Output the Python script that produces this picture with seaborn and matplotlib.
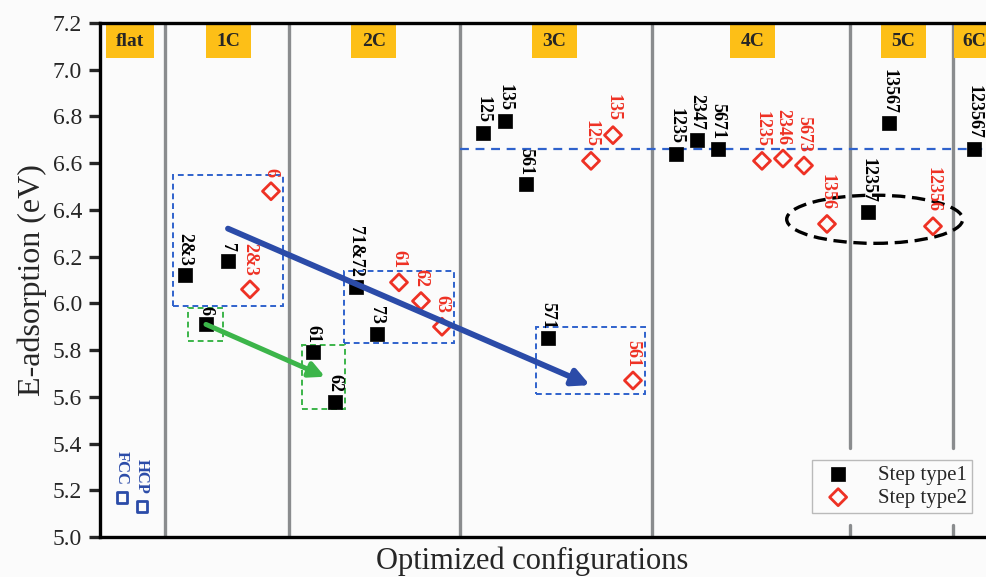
import numpy as np
import pandas as pd
import matplotlib.pyplot as plt
import matplotlib.patches as mpatches
import seaborn as sns

# Libs set-up
sns.set_style('ticks')
plt.rcParams['font.family'] = ['Liberation Serif', 'DejaVu Serif']

# ---- data (x = slot position along the configuration axis, y = E-adsorption in eV)
type1_labels = ['2&3', '7', '6', '61', '62', '71&72', '73', '125', '135', '561', '571',
                '1235', '2347', '5671', '12357', '13567', '123567']
type1_x = [0.85, 1.28, 1.06, 2.13, 2.35, 2.56, 2.77, 3.83, 4.05, 4.26, 4.48,
           5.76, 5.97, 6.18, 7.68, 7.89, 8.74]
type1_e = [6.12, 6.18, 5.91, 5.79, 5.58, 6.07, 5.87, 6.73, 6.78, 6.51, 5.85,
           6.64, 6.70, 6.66, 6.39, 6.77, 6.66]

type2_labels = ['6', '2&3', '61', '62', '63', '125', '135', '561',
                '1235', '2346', '5673', '1356', '12356']
type2_x = [1.71, 1.50, 2.99, 3.21, 3.42, 4.91, 5.13, 5.33,
           6.62, 6.83, 7.04, 7.27, 8.33]
type2_e = [6.48, 6.06, 6.09, 6.01, 5.90, 6.61, 6.72, 5.67,
           6.61, 6.62, 6.59, 6.34, 6.33]

flat_labels = ['FCC', 'HCP']
flat_x = [0.22, 0.42]
flat_e = [5.17, 5.13]

group_names = ['flat', '1C', '2C', '3C', '4C', '5C', '6C']
group_centers = [0.30, 1.285, 2.74, 4.545, 6.525, 8.035, 8.77]
separators = [0.65, 1.89, 3.60, 5.52, 7.50, 8.53]
step_level = 6.66

df1 = pd.DataFrame({'x': type1_x, 'E': type1_e, 'label': type1_labels})
df2 = pd.DataFrame({'x': type2_x, 'E': type2_e, 'label': type2_labels})
dff = pd.DataFrame({'x': flat_x, 'E': flat_e, 'label': flat_labels})

RED = '#ee3124'
BLUE = '#2f62cc'
NAVY = '#2b4ba8'
GREEN = '#3cb54a'
GOLD = '#fdbf17'
GRAY = '#8a8c8e'

fig = plt.figure(figsize=(9.86, 5.77), dpi=100, facecolor='#fbfbfb')
ax = fig.add_axes([0.1014, 0.0693, 0.8986, 0.8908])
ax.set_facecolor('#fbfbfb')
ax.set_xlim(0, 8.86)
ax.set_ylim(5.0, 7.2)

# group separators (5C / 6C ones broken by the legend)
for s in separators:
    if s > 7.0:
        ax.plot([s, s], [5.0, 5.05], color=GRAY, lw=2.4, zorder=1)
        ax.plot([s, s], [5.38, 7.2], color=GRAY, lw=2.4, zorder=1)
    else:
        ax.axvline(s, color=GRAY, lw=2.4, zorder=1)

# group name boxes
for name, c in zip(group_names, group_centers):
    w = 0.48 if name == 'flat' else 0.45
    ax.add_patch(mpatches.Rectangle((c - w / 2, 7.05), w, 0.14, facecolor=GOLD,
                                    edgecolor='none', zorder=2))
    # the last box runs off the right edge, keep its text inside
    ax.text(min(c, 8.74), 7.12, name, ha='center', va='center', fontsize=14,
            fontweight='bold', zorder=3, clip_on=True)

ax.plot([separators[2], 8.86], [step_level, step_level], color=BLUE, lw=1.6,
        dashes=(4, 3), zorder=2)

# dashed frames
blue_boxes = [(0.727, 5.99, 1.833, 6.55), (2.44, 5.83, 3.54, 6.14), (4.357, 5.61, 5.45, 5.90)]
green_boxes = [(0.883, 5.84, 1.233, 5.98), (2.023, 5.55, 2.45, 5.82)]
for (x0, y0, x1, y1) in blue_boxes:
    ax.add_patch(mpatches.Rectangle((x0, y0), x1 - x0, y1 - y0, fill=False,
                                    edgecolor=BLUE, lw=1.4, ls=(0, (3, 2)), zorder=2))
for (x0, y0, x1, y1) in green_boxes:
    ax.add_patch(mpatches.Rectangle((x0, y0), x1 - x0, y1 - y0, fill=False,
                                    edgecolor=GREEN, lw=1.4, ls=(0, (3, 2)), zorder=2))
ax.add_patch(mpatches.Ellipse((7.747, 6.36), 1.76, 0.206, fill=False,
                              edgecolor='black', lw=2.4, ls=(0, (4, 2)), zorder=2))

# markers
sns.scatterplot(data=df1, x='x', y='E', marker='s', s=95, color='black',
                edgecolor='black', linewidth=0.5, label='Step type1', ax=ax, zorder=4)
sns.scatterplot(data=df2, x='x', y='E', marker='D', s=75, color=RED,
                facecolor='none', edgecolor=RED, linewidth=2.0, label='Step type2',
                ax=ax, zorder=4)
sns.scatterplot(data=dff, x='x', y='E', marker='s', s=60, color=BLUE,
                facecolor='none', edgecolor=NAVY, linewidth=2.0, ax=ax, zorder=4,
                legend=False)

# point labels
for _, r in df1.iterrows():
    ax.annotate(r['label'], (r['x'], r['E']), xytext=(0, 7), textcoords='offset points',
                rotation=-90, ha='center', va='bottom', fontsize=13,
                fontweight='bold', color='black', zorder=5)
for _, r in df2.iterrows():
    ax.annotate(r['label'], (r['x'], r['E']), xytext=(0, 10), textcoords='offset points',
                rotation=-90, ha='center', va='bottom', fontsize=13,
                fontweight='bold', color=RED, zorder=5)
for _, r in dff.iterrows():
    ax.annotate(r['label'], (r['x'], r['E']), xytext=(0, 9), textcoords='offset points',
                rotation=-90, ha='center', va='bottom', fontsize=12,
                fontweight='bold', color=NAVY, zorder=5)

# trend arrows
ax.annotate('', xy=(4.90, 5.65), xytext=(1.28, 6.32),
            arrowprops=dict(arrowstyle='-|>,head_length=1.0,head_width=0.5',
                            color=NAVY, lw=4.2, shrinkA=0, shrinkB=0), zorder=6)
ax.annotate('', xy=(2.25, 5.686), xytext=(1.06, 5.91),
            arrowprops=dict(arrowstyle='-|>,head_length=0.9,head_width=0.45',
                            color=GREEN, lw=3.6, shrinkA=0, shrinkB=0), zorder=6)

# axes styling
for side in ['left', 'bottom', 'top']:
    ax.spines[side].set_linewidth(2.4)
    ax.spines[side].set_color('black')
ax.spines['right'].set_visible(False)
ax.set_yticks(np.arange(5.0, 7.21, 0.2))
ax.set_yticklabels([f'{v:.1f}' for v in np.arange(5.0, 7.21, 0.2)])
ax.tick_params(axis='y', direction='out', length=8, width=2.4, labelsize=17, pad=5)
ax.set_xticks([])
ax.set_ylabel('E-adsorption (eV)', fontsize=23)
ax.yaxis.set_label_coords(-0.06, 0.5)
ax.set_xlabel('Optimized configurations', fontsize=22)
ax.xaxis.set_label_coords(0.4876, -0.018)

leg = ax.legend(loc='lower right', bbox_to_anchor=(0.984, 0.047), borderaxespad=0,
                fontsize=15, frameon=True, fancybox=False, edgecolor='#aaaaaa',
                facecolor='#fbfbfb', labelspacing=0.15, borderpad=0.25,
                handletextpad=0.9, markerscale=1.0)
leg.get_frame().set_linewidth(1.0)
leg.set_zorder(7)

fig.savefig('out.png', dpi=100, facecolor=fig.get_facecolor())
